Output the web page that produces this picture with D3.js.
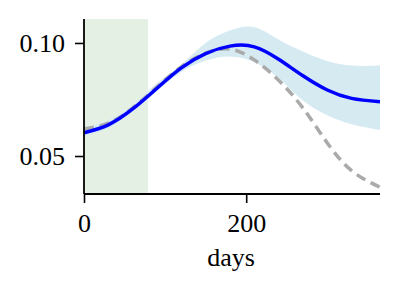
<!DOCTYPE html>
<html>
<head>
<meta charset="utf-8">
<script src="https://cdn.jsdelivr.net/npm/d3@7"></script>
<style>
  body { margin: 0; background: #fff; }
  text { font-family: "Liberation Serif", "DejaVu Serif", serif; }
</style>
</head>
<body>
<div id="canvas"></div>
<script>
"use strict"

// values
let days      = [0, 30, 60, 90, 120, 150, 180, 210, 240, 270, 300, 330, 365];
let meanLine  = [0.0603, 0.0638, 0.0708, 0.0800, 0.0890, 0.0953, 0.0986, 0.0983, 0.0928, 0.0855, 0.0792, 0.0755, 0.0740];
let upperBand = [0.0622, 0.0658, 0.0726, 0.0822, 0.0905, 0.1000, 0.1055, 0.1070, 0.1015, 0.0962, 0.0920, 0.0900, 0.0900];
let lowerBand = [0.0588, 0.0624, 0.0697, 0.0788, 0.0872, 0.0922, 0.0940, 0.0915, 0.0845, 0.0745, 0.0680, 0.0640, 0.0615];
let dashLine  = [0.0620, 0.0645, 0.0712, 0.0805, 0.0894, 0.0955, 0.0973, 0.0925, 0.0835, 0.0712, 0.0558, 0.0435, 0.0362];
let shadeDays = [0, 79];
let xTicks = [0, 200];
let yTicks = [0.05, 0.10];

let drawing = d3.select("#canvas")
    .append("svg")
    .attr("width", 398)
    .attr("height", 290);

let x = d3.scaleLinear().domain([0, 365]).range([84, 380]);
let y = d3.scaleLinear().domain([0.0332, 0.1106]).range([194, 19]);

// green shaded window
drawing.append("rect")
    .attr("x", x(shadeDays[0]))
    .attr("y", y(0.1106))
    .attr("width", x(shadeDays[1]) - x(shadeDays[0]))
    .attr("height", y(0.0332) - y(0.1106))
    .attr("fill", "#e5f0e5");

let pts = days.map((d, i) => ({ d: d, m: meanLine[i], lo: lowerBand[i], hi: upperBand[i], g: dashLine[i] }));

let band = d3.area()
    .x(p => x(p.d))
    .y0(p => y(p.lo))
    .y1(p => y(p.hi))
    .curve(d3.curveNatural);

drawing.append("path")
    .attr("d", band(pts))
    .attr("fill", "#d6eaf2");

let dashed = d3.line()
    .x(p => x(p.d))
    .y(p => y(p.g))
    .curve(d3.curveNatural);

drawing.append("path")
    .attr("d", dashed(pts))
    .attr("fill", "none")
    .attr("stroke", "#aaaaaa")
    .attr("stroke-width", 3.5)
    .attr("stroke-dasharray", "10,6");

let mean = d3.line()
    .x(p => x(p.d))
    .y(p => y(p.m))
    .curve(d3.curveNatural);

drawing.append("path")
    .attr("d", mean(pts))
    .attr("fill", "none")
    .attr("stroke", "#0000ff")
    .attr("stroke-width", 3.5);

// axes
let xAxis = drawing.append("g")
    .attr("transform", "translate(0,194)")
    .call(d3.axisBottom(x).tickValues(xTicks).tickFormat(d3.format("d")).tickSize(9).tickPadding(11));

let yAxis = drawing.append("g")
    .attr("transform", "translate(84,0)")
    .call(d3.axisLeft(y).tickValues(yTicks).tickFormat(d3.format(".2f")).tickSize(9).tickPadding(10));

[xAxis, yAxis].forEach(a => {
    a.select(".domain").attr("stroke", "#000").attr("stroke-width", 1.8);
    a.selectAll(".tick line").attr("stroke", "#000").attr("stroke-width", 1.6);
    a.selectAll(".tick text")
        .attr("fill", "#000")
        .style("font-size", "26px")
        .style("font-family", "'Liberation Serif', serif");
});
xAxis.select(".domain").attr("d", "M84,0H380");
yAxis.select(".domain").attr("d", "M0,19V194");

drawing.append("text")
    .attr("x", 231)
    .attr("y", 266)
    .attr("text-anchor", "middle")
    .style("font-size", "26px")
    .text("days");
</script>
</body>
</html>
